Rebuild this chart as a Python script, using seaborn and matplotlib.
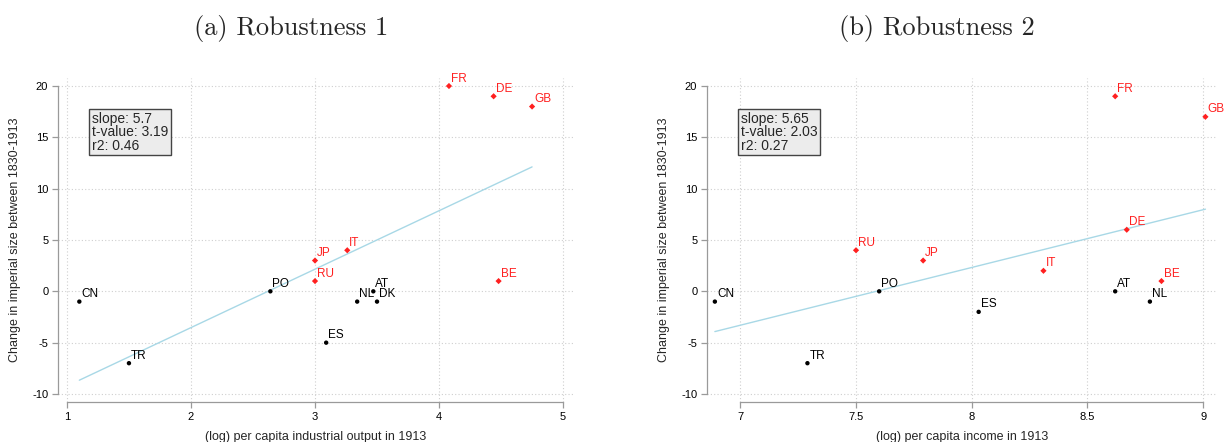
import numpy as np
import pandas as pd
import matplotlib
matplotlib.use("Agg")
import matplotlib.pyplot as plt
import seaborn as sns

# ---- data ----
codes_a = ["CN", "TR", "PO", "JP", "RU", "IT", "ES", "NL", "AT", "DK", "FR", "DE", "GB", "BE"]
x_a = [1.10, 1.50, 2.64, 3.00, 3.00, 3.26, 3.09, 3.34, 3.47, 3.50, 4.08, 4.44, 4.75, 4.48]
y_a = [-1, -7, 0, 3, 1, 4, -5, -1, 0, -1, 20, 19, 18, 1]

codes_b = ["CN", "TR", "RU", "PO", "JP", "ES", "IT", "FR", "DE", "AT", "NL", "BE", "GB"]
x_b = [6.89, 7.29, 7.50, 7.60, 7.79, 8.03, 8.31, 8.62, 8.67, 8.62, 8.77, 8.82, 9.01]
y_b = [-1, -7, 4, 0, 3, -2, 2, 19, 6, 0, -1, 1, 17]

colonial = ["FR", "DE", "GB", "BE", "JP", "RU", "IT"]

stats_a = ["slope: 5.7", "t-value: 3.19", "r2: 0.46"]
stats_b = ["slope: 5.65", "t-value: 2.03", "r2: 0.27"]

titles = ["(a) Robustness 1", "(b) Robustness 2"]
xlabels = ["(log) per capita industrial output in 1913", "(log) per capita income in 1913"]
ylabel = "Change in imperial size between 1830-1913"
xticks_a = [1, 2, 3, 4, 5]
xticks_b = [7, 7.5, 8, 8.5, 9]
yticks = [-10, -5, 0, 5, 10, 15, 20]

sns.set_style("white")
plt.rcParams["font.family"] = ["Liberation Sans", "DejaVu Sans"]

W, H = 1231, 442
fig = plt.figure(figsize=(W / 100, H / 100), dpi=100)

def px_axes(l, t, r, b):
    return fig.add_axes([l / W, 1 - b / H, (r - l) / W, (b - t) / H])

ax_a = px_axes(58, 78, 573, 402)
ax_b = px_axes(707, 78, 1217, 402)

RED = "#ff2020"
GRID = "#cfcfcf"
SPINE = "#9a9a9a"

def draw(ax, codes, xs, ys, xticks, xlim, xlabel, stats, xfmt):
    df = pd.DataFrame({"code": codes, "x": xs, "y": ys})
    df["grp"] = np.where(df["code"].isin(colonial), "col", "other")
    # grid
    for xt in xticks:
        ax.axvline(xt, color=GRID, lw=0.8, ls=(0, (1, 2)), zorder=0)
    for yt in yticks:
        ax.axhline(yt, color=GRID, lw=0.8, ls=(0, (1, 2)), zorder=0)
    sns.regplot(data=df, x="x", y="y", ax=ax, scatter=False, ci=None,
                truncate=True, color="#a8d8e6", line_kws={"lw": 1.0})
    sns.scatterplot(data=df, x="x", y="y", hue="grp", style="grp", ax=ax,
                    palette={"col": RED, "other": "black"},
                    markers={"col": "D", "other": "o"},
                    s=10, linewidth=0, legend=False, zorder=3)
    for c, xv, yv, g in zip(df["code"], df["x"], df["y"], df["grp"]):
        ax.annotate(c, (xv, yv), xytext=(1.5, 1.0), textcoords="offset points",
                    fontsize=8.5, color=RED if g == "col" else "black",
                    ha="left", va="bottom", annotation_clip=False)
    ax.set_xlim(*xlim)
    ax.set_ylim(-10.78, 20.78)
    ax.set_xticks(xticks)
    ax.set_xticklabels([xfmt(v) for v in xticks])
    ax.set_yticks(yticks)
    ax.set_yticklabels([str(v) for v in yticks])
    ax.tick_params(axis="both", which="major", direction="out", length=4,
                   width=0.9, color=SPINE, labelsize=8, pad=3, labelcolor="black")
    ax.tick_params(bottom=True, left=True)
    for side in ["left", "bottom"]:
        ax.spines[side].set_color(SPINE)
        ax.spines[side].set_linewidth(0.9)
    sns.despine(ax=ax, trim=True)
    ax.set_xlabel(xlabel, fontsize=9, labelpad=7)
    ax.set_ylabel(ylabel, fontsize=9, labelpad=8)
    ax.text(0.066, 0.896, "\n".join(stats), transform=ax.transAxes,
            fontsize=10, ha="left", va="top", linespacing=0.95,
            bbox=dict(boxstyle="square,pad=0.18", fc="#ececec", ec="#444444", lw=1.0))

draw(ax_a, codes_a, x_a, y_a, xticks_a, (0.928, 5.08), xlabels[0], stats_a,
     lambda v: f"{v:g}")
draw(ax_b, codes_b, x_b, y_b, xticks_b, (6.856, 9.06), xlabels[1], stats_b,
     lambda v: f"{v:g}")

fig.text(291 / W, 1 - 29 / H, titles[0], fontfamily="cmr10", fontsize=19,
         ha="center", va="center")
fig.text(937 / W, 1 - 29 / H, titles[1], fontfamily="cmr10", fontsize=19,
         ha="center", va="center")

fig.savefig("out.png", dpi=100)
